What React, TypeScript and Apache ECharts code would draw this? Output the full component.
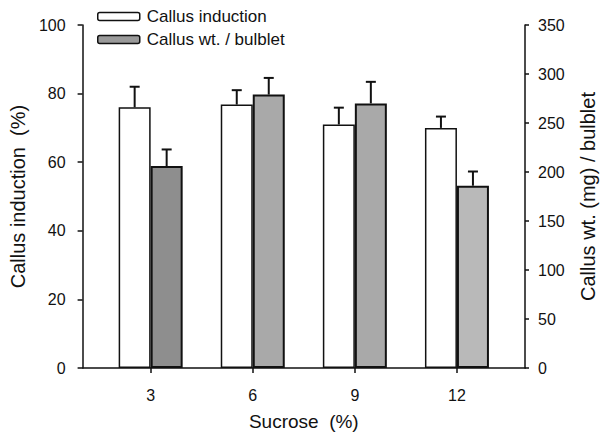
import React, { useEffect, useRef } from "react";
import * as echarts from "echarts";

const sucrose = [3, 6, 9, 12];
const callusInduction = [76, 76.8, 71, 70];
const callusInductionErr = [6, 4.2, 4.9, 3.3];
const callusWeight = [206, 279, 270, 186];
const callusWeightErr = [17, 17, 22, 14.5];
const leftTicks = [0, 20, 40, 60, 80, 100];
const rightTicks = [0, 50, 100, 150, 200, 250, 300, 350];

const greyShades = ["#8e8e8e", "#a9a9a9", "#a9a9a9", "#b9b9b9"];
const FONT = "'Liberation Sans', Arial, sans-serif";
const BAR_W = 32;

export default function App() {
  const ref = useRef<HTMLDivElement>(null);
  useEffect(() => {
    if (!ref.current) return;
    const chart = echarts.init(ref.current, null, { renderer: "svg" });

    const errRender = (offset: number) => (params: any, api: any) => {
      const x = api.value(0);
      const y = api.value(1);
      const e = api.value(2);
      const base = api.coord([x, y]);
      const top = api.coord([x, y + e]);
      const cx = base[0] + offset;
      const style = { stroke: "#111", lineWidth: 2 };
      return {
        type: "group",
        children: [
          { type: "line", shape: { x1: cx, y1: base[1], x2: cx, y2: top[1] }, style },
          { type: "line", shape: { x1: cx - 5, y1: top[1], x2: cx + 5, y2: top[1] }, style },
        ],
      };
    };

    const option: any = {
      animation: false,
      textStyle: { fontFamily: FONT },
      grid: { left: 80, right: 76, top: 25, bottom: 66 },
      legend: {
        orient: "vertical",
        left: 97,
        top: 8,
        padding: 0,
        itemWidth: 42,
        itemHeight: 8,
        itemGap: 6,
        textStyle: { fontSize: 17, color: "#111", fontFamily: FONT, padding: [0, 0, 0, 2] },
        data: [
          { name: "Callus induction", itemStyle: { color: "#fff", borderColor: "#111", borderWidth: 1.5 } },
          { name: "Callus wt. / bulblet", itemStyle: { color: "#9a9a9a", borderColor: "#111", borderWidth: 1.5 } },
        ],
      },
      xAxis: {
        type: "value",
        min: 1,
        max: 14,
        name: "Sucrose  (%)",
        nameLocation: "middle",
        nameGap: 44,
        nameTextStyle: { fontSize: 19, color: "#111", fontFamily: FONT },
        splitLine: { show: false },
        axisLine: { lineStyle: { color: "#111", width: 1.5 } },
        axisTick: { customValues: sucrose, length: 5, lineStyle: { color: "#111", width: 1.5 } },
        axisLabel: { customValues: sucrose, fontSize: 16, color: "#111", margin: 19 },
      },
      yAxis: [
        {
          type: "value",
          min: 0,
          max: 100,
          interval: 20,
          name: "Callus induction  (%)",
          nameLocation: "middle",
          nameRotate: 90,
          nameGap: 52,
          nameTextStyle: { fontSize: 20, color: "#111", fontFamily: FONT },
          splitLine: { show: false },
          axisLine: { show: true, lineStyle: { color: "#111", width: 1.5 } },
          axisTick: { show: true, length: 5, lineStyle: { color: "#111", width: 1.5 } },
          axisLabel: { fontSize: 16, color: "#111", margin: 17, customValues: leftTicks },
        },
        {
          type: "value",
          min: 0,
          max: 350,
          interval: 50,
          position: "right",
          name: "Callus wt. (mg) / bulblet",
          nameLocation: "middle",
          nameRotate: 90,
          nameGap: 53,
          nameTextStyle: { fontSize: 20, color: "#111", fontFamily: FONT },
          splitLine: { show: false },
          axisLine: { show: true, lineStyle: { color: "#111", width: 1.5 } },
          axisTick: { show: true, length: 4, lineStyle: { color: "#111", width: 1.5 } },
          axisLabel: { fontSize: 16, color: "#111", margin: 13, customValues: rightTicks },
        },
      ],
      series: [
        {
          name: "Callus induction",
          type: "bar",
          barWidth: BAR_W,
          barGap: "0%",
          data: sucrose.map((s, i) => [s, callusInduction[i]]),
          itemStyle: { color: "#fff", borderColor: "#111", borderWidth: 1.5 },
        },
        {
          name: "Callus wt. / bulblet",
          type: "bar",
          yAxisIndex: 1,
          barWidth: BAR_W,
          barGap: "0%",
          data: sucrose.map((s, i) => ({
            value: [s, callusWeight[i]],
            itemStyle: { color: greyShades[i] },
          })),
          itemStyle: { borderColor: "#111", borderWidth: 2 },
        },
        {
          type: "custom",
          renderItem: errRender(-BAR_W / 2),
          data: sucrose.map((s, i) => [s, callusInduction[i], callusInductionErr[i]]),
          z: 5,
        },
        {
          type: "custom",
          yAxisIndex: 1,
          renderItem: errRender(BAR_W / 2),
          data: sucrose.map((s, i) => [s, callusWeight[i], callusWeightErr[i]]),
          z: 5,
        },
      ],
    };
    chart.setOption(option);
    return () => chart.dispose();
  }, []);
  return <div ref={ref} style={{ width: 606, height: 436, position: "absolute", left: 0, top: 0 }} />;
}
